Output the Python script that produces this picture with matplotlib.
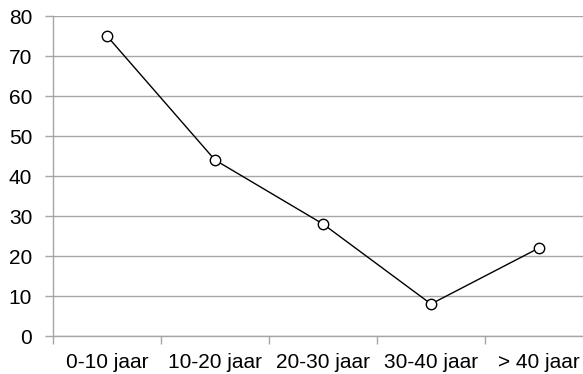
import matplotlib
matplotlib.use("Agg")
import matplotlib.pyplot as plt
import numpy as np

categories = ["0-10 jaar", "10-20 jaar", "20-30 jaar", "30-40 jaar", "> 40 jaar"]
values = [75, 44, 28, 8, 22]
yticks = [0, 10, 20, 30, 40, 50, 60, 70, 80]

plt.rcParams['font.family'] = ['Liberation Sans', 'DejaVu Sans']

W, H = 583, 374
fig = plt.figure(figsize=(W / 100, H / 100), dpi=100)
# plot area in pixels: left 53, top 16, bottom 336, width 5*108 (runs past the right edge)
left, top, bottom, width = 53, 16, 336, 540
ax = fig.add_axes([left / W, 1 - bottom / H, width / W, (bottom - top) / H])

grid_col = "#a6a6a6"
x = np.arange(len(categories))
ax.plot(x, values, color="black", lw=1.0, marker="o", markersize=7.5,
        markerfacecolor="white", markeredgecolor="black", markeredgewidth=1.0,
        zorder=3, clip_on=False)

ax.set_xlim(-0.5, len(categories) - 0.5)
ax.set_ylim(0, 80)
ax.set_yticks(yticks)
ax.yaxis.grid(True, color=grid_col, lw=1.0)
ax.set_axisbelow(True)

# category labels centred, ticks between categories
ax.set_xticks(x)
ax.set_xticklabels(categories, fontsize=15)
ax.set_xticks(np.arange(len(categories) + 1) - 0.5, minor=True)
ax.tick_params(axis="x", which="major", length=0, pad=12)
ax.tick_params(axis="x", which="minor", length=6, color=grid_col, width=1.0)
ax.tick_params(axis="y", length=6, color=grid_col, width=1.0, labelsize=15, pad=9)

for s in ["top", "right"]:
    ax.spines[s].set_visible(False)
for s in ["left", "bottom"]:
    ax.spines[s].set_color(grid_col)
    ax.spines[s].set_linewidth(1.0)

fig.savefig("out.png", dpi=100)
